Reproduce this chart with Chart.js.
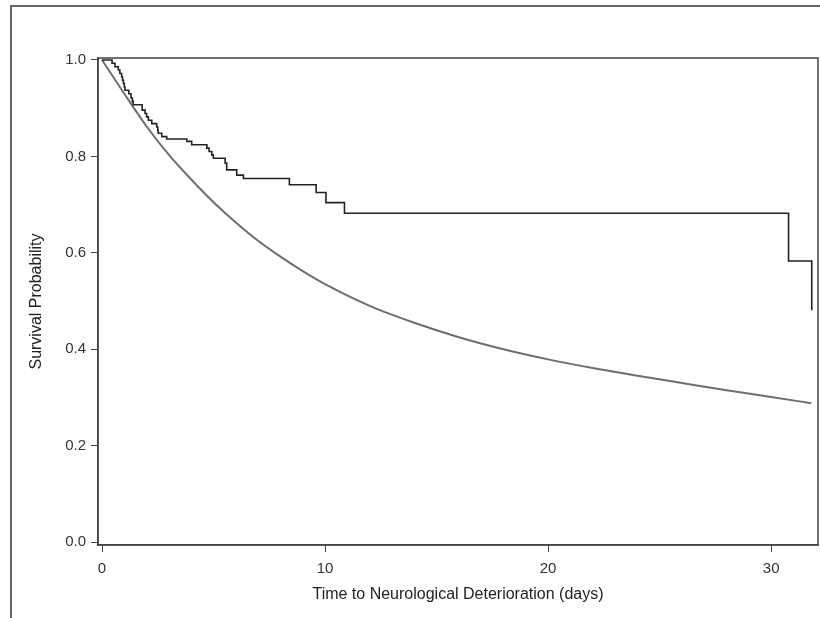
<!DOCTYPE html>
<html>
<head>
<meta charset="utf-8">
<script src="https://cdn.jsdelivr.net/npm/chart.js@4.4.1/dist/chart.umd.min.js"></script>
<style>
  html, body { margin: 0; padding: 0; background: #fff; }
</style>
</head>
<body>
<canvas id="km" width="820" height="618"></canvas>
<script>
// Kaplan-Meier steps (time in days, survival after the drop)
const kmTime = [0, 0.45, 0.58, 0.73, 0.80, 0.88, 0.92, 0.96, 1.00, 1.03, 1.20, 1.30, 1.36, 1.40,
  1.80, 1.93, 2.00, 2.08, 2.23, 2.45, 2.50, 2.52, 2.68, 2.90, 3.80, 4.02, 4.70, 4.80, 4.92, 4.99,
  5.52, 5.59, 6.04, 6.34, 8.40, 9.60, 10.04, 10.87, 30.78, 31.82];
const kmSurv = [1.0, 0.993, 0.986, 0.979, 0.972, 0.965, 0.958, 0.951, 0.944, 0.937, 0.930, 0.921, 0.914, 0.907,
  0.896, 0.889, 0.882, 0.875, 0.868, 0.861, 0.854, 0.848, 0.841, 0.836, 0.831, 0.824, 0.817, 0.810, 0.803, 0.796,
  0.786, 0.772, 0.761, 0.754, 0.741, 0.725, 0.704, 0.682, 0.583, 0.481];

// smooth (model) curve
const fitTime = [0, 1, 2, 3, 4, 5, 6, 7, 8, 9, 10, 12, 14, 16, 18, 20, 22, 24, 26, 28, 30, 31.8];
const fitSurv = [1.0, 0.93, 0.862, 0.803, 0.752, 0.705, 0.663, 0.625, 0.592, 0.562, 0.535, 0.49,
  0.455, 0.425, 0.40, 0.379, 0.361, 0.345, 0.33, 0.315, 0.301, 0.288];

const xTicks = [0, 10, 20, 30];
const yTicks = [0, 0.2, 0.4, 0.6, 0.8, 1.0];

const font = { family: "'Liberation Sans', Arial, sans-serif", size: 15 };

// outer frame + plot box
const framePlugin = {
  id: 'frame',
  beforeDraw(chart) {
    const c = chart.ctx;
    c.save();
    c.strokeStyle = '#666';
    c.lineWidth = 2;
    c.beginPath();
    c.moveTo(11, 618); c.lineTo(11, 6); c.lineTo(820, 6);
    c.stroke();
    c.restore();
  },
  afterDraw(chart) {
    const c = chart.ctx, a = chart.chartArea;
    c.save();
    c.strokeStyle = '#444';
    c.lineWidth = 1.5;
    c.strokeRect(a.left, a.top, a.right - a.left, a.bottom - a.top);
    c.restore();
  }
};

new Chart(document.getElementById('km'), {
  type: 'line',
  data: {
    datasets: [
      {
        data: kmTime.map((t, i) => ({ x: t, y: kmSurv[i] })),
        stepped: 'before',
        borderColor: '#222',
        borderWidth: 1.6,
        pointRadius: 0
      },
      {
        data: fitTime.map((t, i) => ({ x: t, y: fitSurv[i] })),
        borderColor: '#6e6e6e',
        borderWidth: 2,
        cubicInterpolationMode: 'monotone',
        pointRadius: 0
      }
    ]
  },
  options: {
    responsive: false,
    animation: false,
    layout: { padding: { left: 25, top: 58, right: 2, bottom: 10 } },
    plugins: { legend: { display: false }, tooltip: { enabled: false } },
    scales: {
      x: {
        type: 'linear',
        min: -0.18,
        max: 32.1,
        afterBuildTicks: s => { s.ticks = xTicks.map(v => ({ value: v })); },
        afterFit: s => { s.height = 63; },
        grid: { drawOnChartArea: false, tickLength: 7, color: '#444' },
        border: { color: '#444', width: 1.5 },
        ticks: { color: '#333', font: font, padding: 8 },
        title: { display: true, text: 'Time to Neurological Deterioration (days)', color: '#222',
                 font: { family: font.family, size: 16 }, padding: { top: 0, bottom: 4 } }
      },
      y: {
        min: -0.006,
        max: 1.004,
        afterBuildTicks: s => { s.ticks = yTicks.map(v => ({ value: v })); },
        afterFit: s => { s.width = 73; },
        grid: { drawOnChartArea: false, tickLength: 7, color: '#444' },
        border: { color: '#444', width: 1.5 },
        ticks: { color: '#333', font: font, padding: 5, callback: v => v.toFixed(1) },
        title: { display: true, text: 'Survival Probability', color: '#222',
                 font: { family: font.family, size: 16 }, padding: { top: 2, bottom: 0 } }
      }
    }
  },
  plugins: [framePlugin]
});
</script>
</body>
</html>
